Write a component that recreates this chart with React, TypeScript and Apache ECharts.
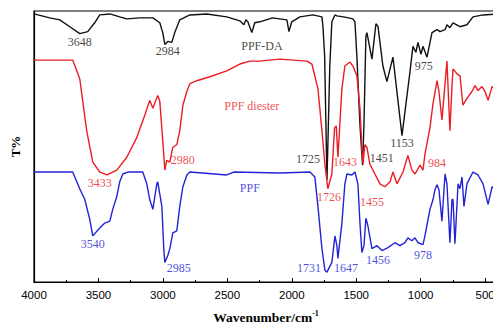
import React, { useEffect, useRef } from "react";
import * as echarts from "echarts";

// [wavenumber (cm-1), transmittance (offset, arbitrary units)]
const ppfDA: [number, number][] = [
  [4000, 273], [3878, 269], [3800, 267], [3722, 260], [3645, 253], [3583, 255], [3529, 264], [3490, 272],
  [3412, 273], [3335, 270], [3280, 268], [3180, 269], [3078, 269], [3024, 264], [3001, 254], [2985, 242],
  [2962, 245], [2931, 244], [2908, 254], [2869, 267], [2791, 272], [2659, 273], [2504, 270], [2403, 266],
  [2372, 262], [2356, 267], [2341, 265], [2310, 254], [2287, 264], [2248, 265], [2150, 269], [2038, 267],
  [2022, 255], [2000, 265], [1937, 270], [1836, 272], [1766, 270], [1758, 260], [1745, 230], [1735, 160],
  [1727, 104], [1718, 150], [1705, 220], [1689, 265], [1665, 272], [1650, 271], [1600, 270], [1560, 269],
  [1526, 268], [1510, 265], [1495, 230], [1471, 160], [1451, 119], [1440, 160], [1425, 250], [1417, 254],
  [1378, 227], [1347, 263], [1331, 260], [1293, 220], [1262, 204], [1215, 229], [1145, 149], [1083, 214],
  [1060, 240], [1037, 234], [1021, 244], [998, 232], [982, 240], [951, 229], [912, 254], [873, 257],
  [850, 255], [811, 257], [796, 262], [773, 259], [749, 264], [695, 260], [641, 262], [594, 270],
  [516, 272], [400, 273],
];

const ppfDiester: [number, number][] = [
  [4000, 226], [3800, 226], [3700, 226], [3645, 207], [3591, 154], [3544, 122], [3490, 112], [3433, 109],
  [3358, 114], [3280, 127], [3203, 147], [3140, 170], [3102, 185], [3078, 177], [3040, 190], [3024, 184],
  [3001, 144], [2985, 114], [2970, 124], [2946, 122], [2923, 137], [2892, 140], [2869, 154], [2845, 180],
  [2814, 194], [2791, 202], [2737, 205], [2636, 209], [2504, 215], [2403, 222], [2325, 225], [2248, 225],
  [2092, 227], [1883, 225], [1844, 222], [1797, 197], [1766, 154], [1743, 120], [1720, 95], [1689, 110],
  [1668, 157], [1655, 159], [1642, 127], [1611, 197], [1588, 220], [1549, 224], [1526, 220], [1495, 210],
  [1471, 177], [1456, 137], [1448, 120], [1432, 140], [1417, 137], [1394, 120], [1355, 110], [1316, 100],
  [1277, 97], [1238, 102], [1215, 112], [1184, 100], [1137, 112], [1099, 129], [1068, 114], [1044, 110],
  [1005, 119], [982, 114], [967, 130], [928, 157], [904, 182], [873, 205], [858, 194], [835, 165],
  [811, 202], [796, 225], [773, 154], [757, 200], [749, 217], [718, 212], [695, 210], [672, 180],
  [641, 187], [602, 194], [578, 200], [555, 195], [524, 199], [501, 194], [477, 185], [446, 199], [400, 196],
];

const ppf: [number, number][] = [
  [4000, 112], [3700, 112], [3645, 95], [3606, 84], [3568, 64], [3544, 47], [3490, 55], [3451, 60],
  [3412, 62], [3389, 74], [3358, 87], [3335, 102], [3311, 110], [3272, 112], [3156, 112], [3125, 100],
  [3102, 84], [3078, 74], [3047, 100], [3040, 102], [3008, 77], [2993, 34], [2985, 20], [2962, 27],
  [2946, 34], [2923, 50], [2892, 52], [2869, 77], [2845, 97], [2814, 109], [2791, 112], [2504, 109],
  [2450, 112], [2092, 111], [1859, 112], [1821, 107], [1797, 77], [1766, 34], [1743, 12], [1727, 10],
  [1689, 20], [1665, 47], [1650, 37], [1642, 24], [1611, 60], [1588, 100], [1572, 110], [1533, 109],
  [1510, 112], [1487, 100], [1471, 60], [1456, 30], [1440, 37], [1425, 65], [1409, 57], [1378, 34],
  [1339, 37], [1300, 32], [1254, 35], [1200, 40], [1161, 37], [1122, 40], [1099, 45], [1068, 42],
  [1044, 45], [1021, 40], [982, 38], [967, 47], [928, 74], [904, 84], [889, 94], [873, 99], [858, 94],
  [835, 62], [811, 110], [796, 100], [773, 40], [757, 84], [749, 84], [734, 39], [710, 100], [695, 95],
  [679, 107], [664, 77], [641, 100], [594, 112], [555, 109], [516, 100], [477, 79], [446, 97], [400, 92],
];

// [text, wavenumber, T] label anchors
const labelsDA: [string, number, number][] = [
  ["3648", 3645, 244], ["2984", 2962, 235], ["PPF-DA", 2232, 240], ["975", 976, 220],
  ["1153", 1145, 142], ["1725", 1875, 125], ["1451", 1301, 126],
];
const labelsDiester: [string, number, number][] = [
  ["PPF diester", 2310, 179], ["3433", 3490, 101], ["2980", 2845, 124], ["1643", 1588, 122],
  ["1726", 1712, 87], ["1455", 1378, 81], ["984", 874, 121],
];
const labelsPPF: [string, number, number][] = [
  ["PPF", 2325, 96], ["3540", 3544, 39], ["2985", 2876, 14], ["1731", 1867, 14],
  ["1647", 1580, 14], ["1456", 1332, 22], ["978", 982, 28],
];

const majorTicks = [500, 1000, 1500, 2000, 2500, 3000, 3500, 4000];
const minorTicks = [750, 1250, 1750, 2250, 2750, 3250, 3750];

const BLACK = "#111111";
const RED = "#ec1c24";
const BLUE = "#2323d6";
const SERIF = "'Liberation Serif', 'Times New Roman', serif";

function lineSeries(name: string, data: [number, number][], color: string) {
  return {
    name,
    type: "line",
    data,
    showSymbol: false,
    symbol: "none",
    lineStyle: { color, width: 1.4 },
    itemStyle: { color },
    z: 2,
  };
}

function labelSeries(items: [string, number, number][], color: string) {
  return {
    type: "scatter",
    data: items.map(([t, x, y]) => [x, y, t]),
    symbolSize: 0,
    silent: true,
    z: 5,
    label: {
      show: true,
      position: "inside",
      formatter: (p: any) => p.data[2],
      color,
      fontFamily: SERIF,
      fontSize: 12,
    },
  };
}

export default function App() {
  const ref = useRef<HTMLDivElement>(null);
  useEffect(() => {
    document.body.style.margin = "0";
    const chart = echarts.init(ref.current!, null, { renderer: "svg" });
    chart.setOption({
      animation: false,
      backgroundColor: "#ffffff",
      grid: {
        left: 34, right: 0, top: 11, bottom: 42,
        show: true, borderColor: "#000", borderWidth: 1.2, backgroundColor: "transparent",
      },
      xAxis: [
        {
          type: "value", min: 400, max: 4000, inverse: true, position: "bottom",
          axisLine: { show: true, lineStyle: { color: "#000", width: 1.2 } },
          axisTick: { show: true, inside: true, length: 4, customValues: majorTicks, lineStyle: { color: "#000" } },
          axisLabel: {
            show: true, customValues: majorTicks, color: "#000", fontSize: 11.5,
            fontFamily: "'Liberation Sans', Arial, sans-serif", margin: 7,
            formatter: (v: number) => String(v),
          },
          splitLine: { show: false },
          name: "{a|Wavenumber/cm}{b|-1}",
          nameLocation: "middle",
          nameGap: 27,
          nameTextStyle: {
            rich: {
              a: { fontFamily: SERIF, fontWeight: "bold", fontSize: 13.5, color: "#000" },
              b: { fontFamily: SERIF, fontWeight: "bold", fontSize: 8, color: "#000", padding: [0, 0, 8, 0] },
            },
          },
        },
        {
          type: "value", min: 400, max: 4000, inverse: true, position: "bottom",
          axisLine: { show: false },
          axisTick: { show: true, inside: true, length: 2, customValues: minorTicks, lineStyle: { color: "#000" } },
          axisLabel: { show: false },
          splitLine: { show: false },
        },
      ],
      yAxis: {
        type: "value", min: 0, max: 276,
        axisLine: { show: true, lineStyle: { color: "#000", width: 1.2 } },
        axisTick: { show: false },
        axisLabel: { show: false },
        splitLine: { show: false },
        name: "T%",
        nameLocation: "middle",
        nameGap: 12,
        nameTextStyle: { fontFamily: SERIF, fontWeight: "bold", fontSize: 13, color: "#000" },
      },
      series: [
        lineSeries("PPF-DA", ppfDA, BLACK),
        lineSeries("PPF diester", ppfDiester, RED),
        lineSeries("PPF", ppf, BLUE),
        labelSeries(labelsDA, BLACK),
        labelSeries(labelsDiester, RED),
        labelSeries(labelsPPF, BLUE),
      ],
    });
    return () => chart.dispose();
  }, []);
  return (
    <div
      ref={ref}
      style={{ position: "fixed", left: 0, top: 0, width: 498, height: 329, background: "#fff" }}
    />
  );
}
